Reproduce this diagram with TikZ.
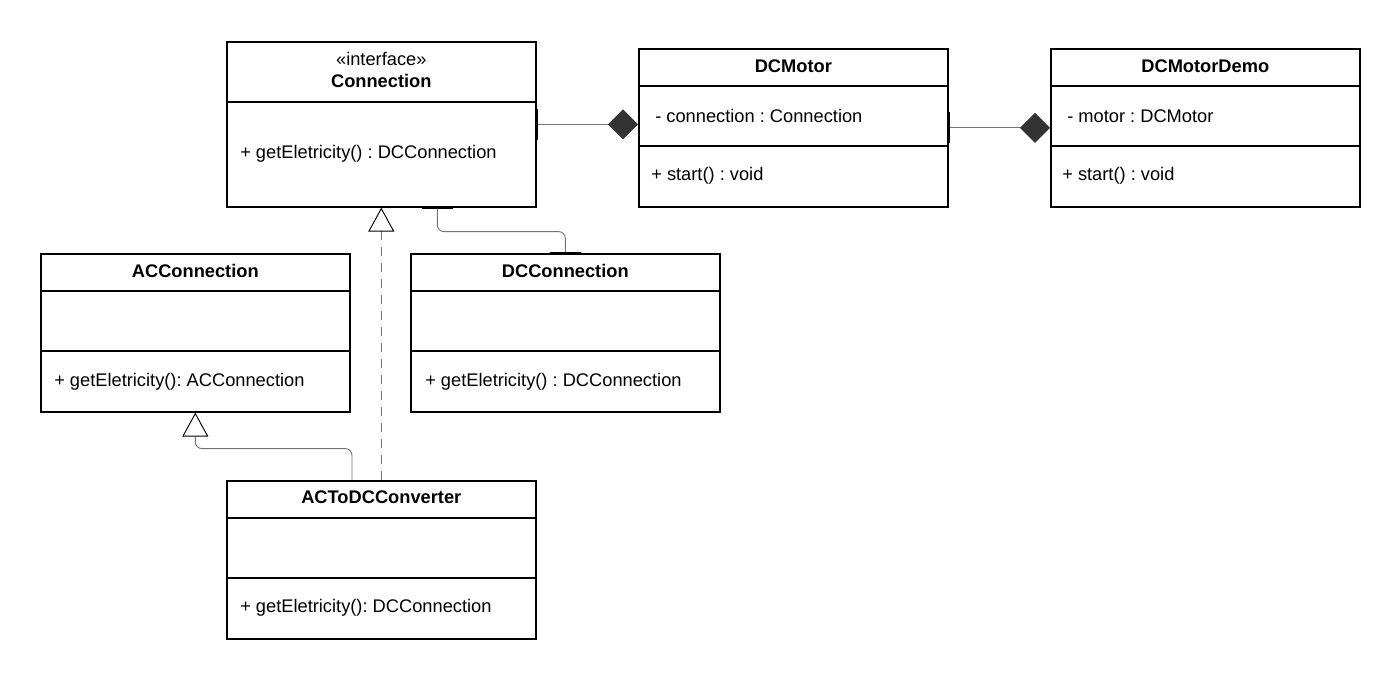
\documentclass[tikz,border=0pt]{standalone}
\usepackage{fontspec}
\setmainfont{Liberation Sans}
\usetikzlibrary{arrows.meta}
\usetikzlibrary{calc}
\usetikzlibrary{positioning}
\frenchspacing
\tikzset{classbox/.style = {draw, line width=1.2pt, anchor=north west, inner sep=0,
                            minimum width=231.75pt, minimum height=118.5pt}}
\tikzset{title/.style = {inner sep=0, font=\fontsize{13.7}{16}\selectfont\bfseries}}
\tikzset{member/.style = {anchor=west, inner sep=0, font=\fontsize{13.7}{16}\selectfont}}
\tikzset{divider/.style = {line width=1.2pt}}
\tikzset{link/.style = {draw=black!55, line width=0.7pt}}
\tikzset{compose/.style = {link, {Bar[width=23pt, line width=1.2pt, color=black]}-{Diamond[length=22.5pt, width=22.5pt, color=black!80, fill=black!80]}}}
\tikzset{inherit/.style = {link, -{Triangle[length=18pt, width=19.5pt, color=black, fill=white, line width=0.7pt]}}}
\tikzset{assoc/.style = {link, rounded corners=5pt, {Bar[width=23pt, line width=1pt, color=black]}-{Bar[width=23pt, line width=1pt, color=black]}}}

\begin{document}
\begin{tikzpicture}[x=0.75pt, y=-0.75pt]
    \fill [white] (0, 0) rectangle (1400, 680);
    \useasboundingbox (0, 0) rectangle (1400, 680);

    % classes
    \node [classbox, minimum height=123.75pt] (conn) at (226, 41) {};
    \node [classbox] (dcm) at (638, 48) {};
    \node [classbox] (dcmd) at (1050, 48) {};
    \node [classbox] (acc) at (40, 253) {};
    \node [classbox] (dcc) at (410, 253) {};
    \node [classbox] (act) at (226, 480) {};

    \draw [divider] ($(conn.north west)+(0,61)$) -- ($(conn.north east)+(0,61)$);
    \foreach \b in {dcm, dcmd, acc, dcc, act} {
        \draw [divider] ($(\b.north west)+(0,38)$) -- ($(\b.north east)+(0,38)$);
        \draw [divider] ($(\b.north west)+(0,98)$) -- ($(\b.north east)+(0,98)$);
    }

    \node [title, font=\fontsize{13.7}{16}\selectfont] (conn-stereo) at ($(conn.north)+(0,18)$) {«interface»};
    \node [title] (conn-name) at ($(conn.north)+(0,40)$) {Connection};
    \node [member] (conn-op) at ($(conn.north west)+(14,113)$) {+ getEletricity() : DCConnection};

    \node [title] (dcm-name) at ($(dcm.north)+(0,18)$) {DCMotor};
    \node [member] (dcm-attr) at ($(dcm.north west)+(17,68)$) {- connection : Connection};
    \node [member] (dcm-op) at ($(dcm.north west)+(13,128)$) {+ start() : void};

    \node [title] (dcmd-name) at ($(dcmd.north)+(0,18)$) {DCMotorDemo};
    \node [member] (dcmd-attr) at ($(dcmd.north west)+(17,68)$) {- motor : DCMotor};
    \node [member] (dcmd-op) at ($(dcmd.north west)+(12,128)$) {+ start() : void};

    \node [title] (acc-name) at ($(acc.north)+(0,18)$) {ACConnection};
    \node [member] (acc-op) at ($(acc.north west)+(14,129)$) {+ getEletricity(): ACConnection};

    \node [title] (dcc-name) at ($(dcc.north)+(0,18)$) {DCConnection};
    \node [member] (dcc-op) at ($(dcc.north west)+(15,129)$) {+ getEletricity() : DCConnection};

    \node [title] (act-name) at ($(act.north)+(0,17)$) {ACToDCConverter};
    \node [member] (act-op) at ($(act.north west)+(14,128)$) {+ getEletricity(): DCConnection};

    % relations
    \draw [compose] (conn.east) -- (conn.east -| dcm.west);
    \draw [compose] (dcm.east) -- (dcmd.west);
    \draw [assoc] ([xshift=42pt]conn.south) -- ++(0, 24) -| (dcc.north);
    \draw [inherit, dash pattern=on 7pt off 5pt] (act.north) -- (conn.south);
    \draw [inherit, rounded corners=5pt] ([xshift=-22pt]act.north) |- ($(acc.south)+(0,36)$) -- (acc.south);
\end{tikzpicture}
\end{document}
